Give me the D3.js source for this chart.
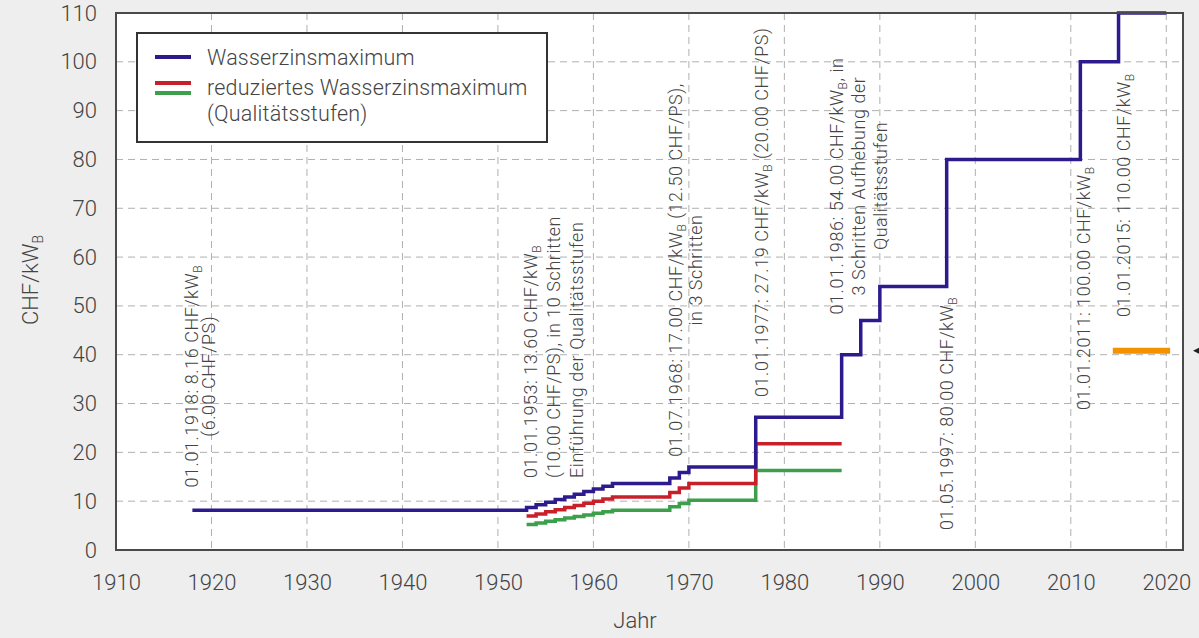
<!DOCTYPE html>
<html><head><meta charset="utf-8">
<script src="https://cdn.jsdelivr.net/npm/d3@7/dist/d3.min.js"></script>
<style>
body{margin:0;background:#eeeeee;}
svg{display:block;}
text{font-family:Roboto,"Liberation Sans",sans-serif;font-weight:300;fill:#444;}
</style></head><body>
<svg id="c" width="1199" height="638"></svg>
<script>
// ---- data ----
const xTicks = [1910,1920,1930,1940,1950,1960,1970,1980,1990,2000,2010,2020];
const yTicks = [0,10,20,30,40,50,60,70,80,90,100,110];

const blueYears  = [1918,1953,1954,1955,1956,1957,1958,1959,1960,1961,1962,1968,1969,1970,1977,1986,1988,1990,1997,2011,2015,2020];
const blueValues = [8.16,8.70,9.25,9.79,10.34,10.88,11.42,11.97,12.51,13.06,13.60,14.73,15.87,17.00,27.19,40.00,47.00,54.00,80.00,100.00,110.00,110.00];

const redYears  = [1953,1954,1955,1956,1957,1958,1959,1960,1961,1962,1968,1969,1970,1977,1986];
const redValues = [6.96,7.40,7.83,8.27,8.70,9.14,9.58,10.01,10.45,10.88,11.78,12.70,13.60,21.75,21.75];

const greenYears  = [1953,1954,1955,1956,1957,1958,1959,1960,1961,1962,1968,1969,1970,1977,1986];
const greenValues = [5.22,5.55,5.87,6.20,6.53,6.85,7.18,7.51,7.84,8.16,8.84,9.52,10.20,16.31,16.31];

const orangeYears  = [2014.4,2020.4];
const orangeValues = [40.8,40.8];

const legendLabels = ["Wasserzinsmaximum","reduziertes Wasserzinsmaximum","(Qualitätsstufen)"];

// annotation texts: each line is a list of [text, isSubscript]
const annotations = [
  {year:1918.58, value:35.6, anchor:"middle", gap:17, lines:[
    [["01.01.1918: 8.16 CHF/kW",0],["B",1]],
    [["(6.00 CHF/PS)",0]] ]},
  {year:1954.07, value:14.75, anchor:"start", gap:23, lines:[
    [["01.01.1953: 13.60 CHF/kW",0],["B",1]],
    [["(10.00 CHF/PS), in 10 Schritten",0]],
    [["Einführung der Qualitätsstufen",0]] ]},
  {year:1969.25, value:57.35, anchor:"middle", gap:20, lines:[
    [["01.07.1968: 17.00 CHF/kW",0],["B",1],[" (12.50 CHF/PS),",0]],
    [["in 3 Schritten",0]] ]},
  {year:1978.26, value:31.34, anchor:"start", gap:20, lines:[
    [["01.01.1977: 27.19 CHF/kW",0],["B",1],[" (20.00 CHF/PS)",0]] ]},
  {year:1986.11, value:74.56, anchor:"middle", gap:22, lines:[
    [["01.01.1986: 54.00 CHF/kW",0],["B",1],[", in",0]],
    [["3 Schritten Aufhebung der",0]],
    [["Qualitätsstufen",0]] ]},
  {year:1997.63, value:4.10, anchor:"start", gap:20, lines:[
    [["01.05.1997: 80.00 CHF/kW",0],["B",1]] ]},
  {year:2011.97, value:28.68, anchor:"start", gap:20, lines:[
    [["01.01.2011: 100.00 CHF/kW",0],["B",1]] ]},
  {year:2016.16, value:47.73, anchor:"start", gap:20, lines:[
    [["01.01.2015: 110.00 CHF/kW",0],["B",1]] ]}
];

// ---- chart ----
const svg = d3.select("#c");
const L = 116, R = 1183, T = 13, B = 550;
const x = d3.scaleLinear().domain([1910, 2021.75]).range([L, R]);
const y = d3.scaleLinear().domain([0, 110]).range([B, T]);

svg.append("rect").attr("width",1199).attr("height",638).attr("fill","#eeeeee");
svg.append("rect").attr("x",L).attr("y",T).attr("width",R-L).attr("height",B-T).attr("fill","#ffffff");

// grid
const grid = svg.append("g").attr("stroke","#b0b0b0").attr("stroke-width",1).attr("stroke-dasharray","7,5").attr("fill","none");
xTicks.filter(d=>d>1910).forEach(d=>{
  grid.append("line").attr("x1",x(d)).attr("x2",x(d)).attr("y1",T).attr("y2",B);
});
yTicks.filter(d=>d>0 && d<110).forEach(d=>{
  grid.append("line").attr("x1",L).attr("x2",R).attr("y1",y(d)).attr("y2",y(d));
});

// axes
const ax = svg.append("g").attr("transform",`translate(0,${B})`)
  .call(d3.axisBottom(x).tickValues(xTicks).tickFormat(d3.format("d")).tickSize(0).tickPadding(24));
ax.select(".domain").remove();
ax.selectAll("text").attr("font-size",22).attr("font-family",null).attr("fill","#444");
const ay = svg.append("g").attr("transform",`translate(${L},0)`)
  .call(d3.axisLeft(y).tickValues(yTicks).tickSize(0).tickPadding(19));
ay.select(".domain").remove();
ay.selectAll("text").attr("font-size",22).attr("font-family",null).attr("fill","#444");

// axis titles
const yl = svg.append("text").attr("transform","translate(38,280) rotate(-90)")
  .attr("text-anchor","middle").attr("font-size",22);
yl.append("tspan").text("CHF/kW");
yl.append("tspan").text("B").attr("font-size",14).attr("dy",5);
svg.append("text").attr("x",635).attr("y",628).attr("text-anchor","middle").attr("font-size",22).text("Jahr");

// lines
const line = d3.line().x(d=>x(d[0])).y(d=>y(d[1])).curve(d3.curveStepAfter);
function draw(ys, vs, color, w){
  svg.append("path").datum(ys.map((d,i)=>[d,vs[i]]))
    .attr("d",line).attr("fill","none").attr("stroke",color).attr("stroke-width",w)
    .attr("stroke-linejoin","miter");
}
draw(greenYears, greenValues, "#3d9f4b", 3.5);
draw(redYears, redValues, "#c8202b", 3.5);
draw(blueYears, blueValues, "#2c1b8c", 3.5);
draw(orangeYears, orangeValues, "#f39200", 6);

// border
svg.append("rect").attr("x",L).attr("y",T).attr("width",R-L).attr("height",B-T)
  .attr("fill","none").attr("stroke","#4a4a4a").attr("stroke-width",2);

// arrow at right edge
svg.append("path").attr("d",`M1193,${y(40.8)} l6,-3 l0,6 z`).attr("fill","#222");

// annotations
annotations.forEach(a=>{
  const g = svg.append("g").attr("transform",`translate(${x(a.year)},${y(a.value)}) rotate(-90)`);
  a.lines.forEach((ln,i)=>{
    const t = g.append("text").attr("x",0).attr("y",i*a.gap)
      .attr("text-anchor",a.anchor).attr("font-size",18).attr("letter-spacing",0.55).attr("fill","#555");
    let sub = false;
    ln.forEach(([s,isSub])=>{
      const ts = t.append("tspan").text(s);
      if(isSub && !sub){ ts.attr("font-size",12).attr("dy",4); sub = true; }
      else if(!isSub && sub){ ts.attr("dy",-4); sub = false; }
    });
  });
});

// legend
const lg = svg.append("g");
lg.append("rect").attr("x",137).attr("y",33).attr("width",410).attr("height",109)
  .attr("fill","#fff").attr("stroke","#333").attr("stroke-width",2);
lg.append("line").attr("x1",155).attr("x2",191).attr("y1",57).attr("y2",57).attr("stroke","#2c1b8c").attr("stroke-width",4);
lg.append("line").attr("x1",155).attr("x2",191).attr("y1",83).attr("y2",83).attr("stroke","#c8202b").attr("stroke-width",4);
lg.append("line").attr("x1",155).attr("x2",191).attr("y1",93).attr("y2",93).attr("stroke","#3d9f4b").attr("stroke-width",4);
legendLabels.forEach((s,i)=>{
  lg.append("text").attr("x",207).attr("y",[65,95,121][i]).attr("font-size",21.5).attr("letter-spacing",0.2).attr("fill","#444").text(s);
});
</script>
</body></html>
